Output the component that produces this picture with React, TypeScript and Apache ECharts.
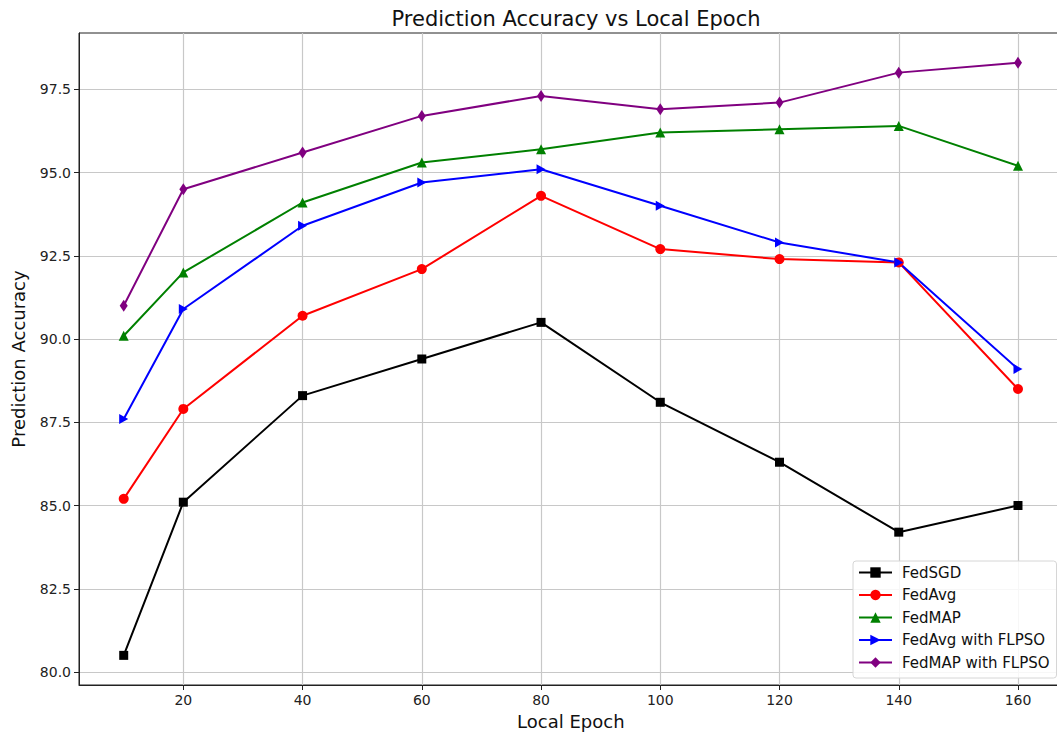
import React, { useEffect, useRef } from "react";
import * as echarts from "echarts";

const epochs = [10, 20, 40, 60, 80, 100, 120, 140, 160];
const fedSGD = [80.5, 85.1, 88.3, 89.4, 90.5, 88.1, 86.3, 84.2, 85.0];
const fedAvg = [85.2, 87.9, 90.7, 92.1, 94.3, 92.7, 92.4, 92.3, 88.5];
const fedMAP = [90.1, 92.0, 94.1, 95.3, 95.7, 96.2, 96.3, 96.4, 95.2];
const fedAvgFLPSO = [87.6, 90.9, 93.4, 94.7, 95.1, 94.0, 92.9, 92.3, 89.1];
const fedMAPFLPSO = [91.0, 94.5, 95.6, 96.7, 97.3, 96.9, 97.1, 98.0, 98.3];
const xTicks = [20, 40, 60, 80, 100, 120, 140, 160];
const yTicks = [80.0, 82.5, 85.0, 87.5, 90.0, 92.5, 95.0, 97.5];

const FONT = "DejaVu Sans";

export default function App() {
  const ref = useRef<HTMLDivElement>(null);
  useEffect(() => {
    const chart = echarts.init(ref.current!, null, { renderer: "svg" });
    const mk = (name: string, data: number[], color: string, symbol: string, size: any) => ({
      name,
      type: "line",
      data: epochs.map((x, i) => [x, data[i]]),
      symbol,
      symbolSize: size,
      showAllSymbol: true,
      lineStyle: { color, width: 2 },
      itemStyle: { color, borderWidth: 0 },
      emphasis: { disabled: true },
    });
    chart.setOption({
      animation: false,
      title: {
        text: "Prediction Accuracy vs Local Epoch",
        left: 571,
        textAlign: "center",
        top: 3,
        textStyle: { fontFamily: FONT, fontSize: 21, fontWeight: "normal", color: "#111" },
      },
      grid: {
        left: 79,
        top: 33,
        right: 12.3,
        bottom: 49,
        show: true,
        borderColor: "#222",
        borderWidth: 1,
        backgroundColor: "transparent",
      },
      legend: {
        orient: "vertical",
        left: 853,
        top: 561,
        padding: [4, 7, 8, 5],
        itemWidth: 33,
        itemHeight: 13,
        itemGap: 7.5,
        backgroundColor: "rgba(255,255,255,0.85)",
        borderColor: "#d6d6d6",
        borderWidth: 1,
        borderRadius: 3,
        textStyle: { fontFamily: FONT, fontSize: 15, color: "#111", padding: [0, 0, 0, 5] },
      },
      xAxis: {
        type: "value",
        min: 2.5,
        max: 167.5,
        name: "Local Epoch",
        nameLocation: "middle",
        nameGap: 27,
        nameTextStyle: { fontFamily: FONT, fontSize: 18, color: "#111" },
        axisLine: { show: true, onZero: false, lineStyle: { color: "#222", width: 1 } },
        axisTick: { show: true, length: 5, lineStyle: { color: "#222" }, customValues: xTicks },
        axisLabel: { fontFamily: FONT, fontSize: 14, color: "#222", margin: 8, customValues: xTicks },
        splitLine: { show: true, lineStyle: { color: "#c8c8c8", width: 1.2 } },
      },
      yAxis: {
        type: "value",
        min: 79.61,
        max: 99.19,
        name: "Prediction Accuracy",
        nameLocation: "middle",
        nameGap: 52,
        nameTextStyle: { fontFamily: FONT, fontSize: 18, color: "#111" },
        axisLine: { show: true, lineStyle: { color: "#222", width: 1 } },
        axisTick: { show: true, length: 5, lineStyle: { color: "#222" }, customValues: yTicks },
        axisLabel: {
          fontFamily: FONT,
          fontSize: 14,
          color: "#222",
          margin: 8,
          customValues: yTicks,
          formatter: (v: number) => v.toFixed(1),
        },
        splitLine: { show: true, lineStyle: { color: "#c8c8c8", width: 1.2 } },
      },
      series: [
        mk("FedSGD", fedSGD, "#000000", "rect", 9),
        mk("FedAvg", fedAvg, "#ff0000", "circle", 10),
        mk("FedMAP", fedMAP, "#008000", "triangle", 10),
        mk("FedAvg with FLPSO", fedAvgFLPSO, "#0000ff", "path://M0,0 L10,5 L0,10 Z", [9, 10]),
        mk("FedMAP with FLPSO", fedMAPFLPSO, "#800080", "diamond", [8, 12]),
      ],
    });
    return () => chart.dispose();
  }, []);
  return (
    <div style={{ position: "absolute", left: 0, top: 0, width: 1057, height: 735, overflow: "hidden" }}>
      <div ref={ref} style={{ width: 1075, height: 735 }} />
    </div>
  );
}
